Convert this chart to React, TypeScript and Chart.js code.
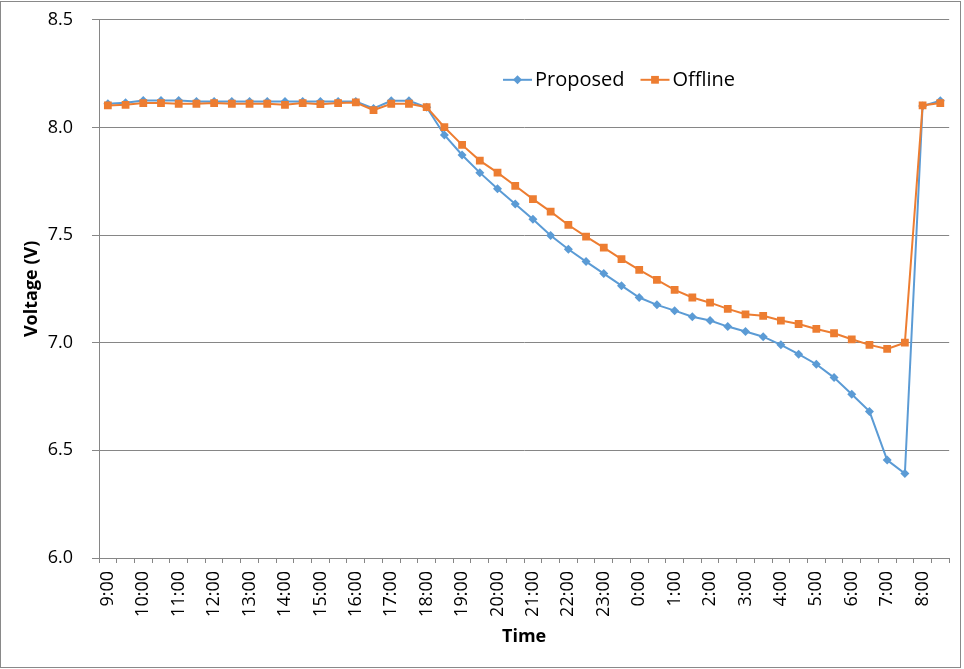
import React, { useEffect, useRef } from "react";
import { Chart, registerables } from "chart.js";

Chart.register(...registerables);

const timeLabels = [
  "9:00", "9:30", "10:00", "10:30", "11:00", "11:30", "12:00", "12:30",
  "13:00", "13:30", "14:00", "14:30", "15:00", "15:30", "16:00", "16:30",
  "17:00", "17:30", "18:00", "18:30", "19:00", "19:30", "20:00", "20:30",
  "21:00", "21:30", "22:00", "22:30", "23:00", "23:30", "0:00", "0:30",
  "1:00", "1:30", "2:00", "2:30", "3:00", "3:30", "4:00", "4:30",
  "5:00", "5:30", "6:00", "6:30", "7:00", "7:30", "8:00", "8:30",
];

const proposed = [
  8.11, 8.115, 8.125, 8.125, 8.125, 8.12, 8.12, 8.12, 8.12, 8.12,
  8.12, 8.12, 8.12, 8.12, 8.12, 8.088, 8.124, 8.124, 8.094, 7.965,
  7.872, 7.79, 7.715, 7.644, 7.574, 7.498, 7.434, 7.377, 7.321, 7.265,
  7.21, 7.176, 7.149, 7.121, 7.103, 7.075, 7.052, 7.028, 6.99, 6.947,
  6.9, 6.838, 6.761, 6.681, 6.455, 6.392, 8.1, 8.124,
];

const offline = [
  8.102, 8.105, 8.113, 8.113, 8.11, 8.11, 8.113, 8.11, 8.11, 8.11,
  8.105, 8.113, 8.108, 8.113, 8.116, 8.08, 8.11, 8.11, 8.094, 8.001,
  7.919, 7.846, 7.79, 7.729, 7.667, 7.609, 7.547, 7.493, 7.442, 7.388,
  7.338, 7.292, 7.245, 7.21, 7.186, 7.157, 7.132, 7.125, 7.103, 7.087,
  7.064, 7.044, 7.016, 6.99, 6.971, 7.0, 8.102, 8.113,
];

const yTicks = [6.0, 6.5, 7.0, 7.5, 8.0, 8.5];
const seriesNames = ["Proposed", "Offline"];

const FONT = "'Open Sans', 'Noto Sans', sans-serif";
const BLUE = "#5B9BD5";
const ORANGE = "#ED7D31";
const GRID = "#868686";

function drawMarker(ctx: CanvasRenderingContext2D, style: string, x: number, y: number, r: number, color: string) {
  ctx.fillStyle = color;
  ctx.beginPath();
  if (style === "rectRot") {
    ctx.moveTo(x, y - r);
    ctx.lineTo(x + r, y);
    ctx.lineTo(x, y + r);
    ctx.lineTo(x - r, y);
    ctx.closePath();
  } else {
    const s = r * Math.SQRT1_2;
    ctx.rect(x - s, y - s, 2 * s, 2 * s);
  }
  ctx.fill();
}

export default function App() {
  const ref = useRef<HTMLCanvasElement>(null);

  useEffect(() => {
    if (!ref.current) return;

    const legendPlugin = {
      id: "customLegend",
      afterDatasetsDraw(chart: any) {
        const ctx = chart.ctx as CanvasRenderingContext2D;
        const ca = chart.chartArea;
        ctx.save();
        ctx.font = `20px ${FONT}`;
        ctx.textBaseline = "middle";
        ctx.textAlign = "left";
        let x = ca.left + 404;
        const y = ca.top + 60;
        chart.data.datasets.forEach((ds: any) => {
          const lineLen = 29;
          ctx.strokeStyle = ds.borderColor;
          ctx.lineWidth = 2;
          ctx.beginPath();
          ctx.moveTo(x, y);
          ctx.lineTo(x + lineLen, y);
          ctx.stroke();
          drawMarker(ctx, ds.pointStyle, x + lineLen / 2, y, ds.pointRadius, ds.backgroundColor);
          ctx.fillStyle = "#000";
          ctx.fillText(ds.label, x + lineLen + 3, y);
          const w = ctx.measureText(ds.label).width;
          x += lineLen + 3 + w + 16;
        });
        ctx.restore();
      },
    };

    const chart = new Chart(ref.current, {
      type: "line",
      data: {
        labels: timeLabels,
        datasets: [
          {
            label: seriesNames[0],
            data: proposed,
            borderColor: BLUE,
            backgroundColor: BLUE,
            borderWidth: 2,
            pointStyle: "rectRot",
            pointRadius: 4.5,
            pointBorderWidth: 0,
            tension: 0,
            order: 1,
          },
          {
            label: seriesNames[1],
            data: offline,
            borderColor: ORANGE,
            backgroundColor: ORANGE,
            borderWidth: 2,
            pointStyle: "rect",
            pointRadius: 5.5,
            pointBorderWidth: 0,
            tension: 0,
            order: 0,
          },
        ],
      },
      options: {
        responsive: false,
        animation: false,
        devicePixelRatio: 1,
        layout: { padding: { top: 10, right: 9, left: 0, bottom: 0 } },
        plugins: {
          legend: { display: false },
          tooltip: { enabled: false },
        },
        scales: {
          x: {
            type: "category",
            offset: true,
            grid: {
              display: true,
              drawOnChartArea: false,
              offset: true,
              tickLength: 5,
              color: GRID,
            },
            border: { color: GRID },
            ticks: {
              autoSkip: false,
              maxRotation: 90,
              minRotation: 90,
              padding: 8,
              color: "#000",
              font: { family: FONT, size: 18 },
              callback: (_v: any, idx: number) => (idx % 2 === 0 ? timeLabels[idx] : ""),
            },
            title: {
              display: true,
              text: "Time",
              color: "#000",
              font: { family: FONT, size: 18, weight: "bold" },
              padding: { top: 0, bottom: 21 },
            },
            afterFit: (s: any) => {
              s.height = 111;
            },
          },
          y: {
            min: 6,
            max: 8.5,
            grid: { color: GRID, tickLength: 7 },
            border: { color: GRID },
            afterBuildTicks: (s: any) => {
              s.ticks = yTicks.map((v) => ({ value: v }));
            },
            ticks: {
              padding: 19,
              color: "#000",
              font: { family: FONT, size: 18 },
              callback: (v: any) => Number(v).toFixed(1),
            },
            title: {
              display: true,
              text: "Voltage (V)",
              color: "#000",
              font: { family: FONT, size: 18, weight: "bold" },
              padding: { top: 21, bottom: 0 },
            },
            afterFit: (s: any) => {
              s.width = 99;
            },
          },
        },
      },
      plugins: [legendPlugin],
    });

    return () => chart.destroy();
  }, []);

  return (
    <div style={{ position: "absolute", left: 0, top: 0, width: 964, height: 669, background: "#fff", overflow: "hidden" }}>
      <canvas ref={ref} width={970} height={679} style={{ position: "absolute", left: 0, top: -10, width: 970, height: 679 }} />
      <div
        style={{
          position: "absolute",
          left: 0,
          top: 1,
          width: 959,
          height: 665,
          border: "1px solid #898989",
          pointerEvents: "none",
        }}
      />
    </div>
  );
}
